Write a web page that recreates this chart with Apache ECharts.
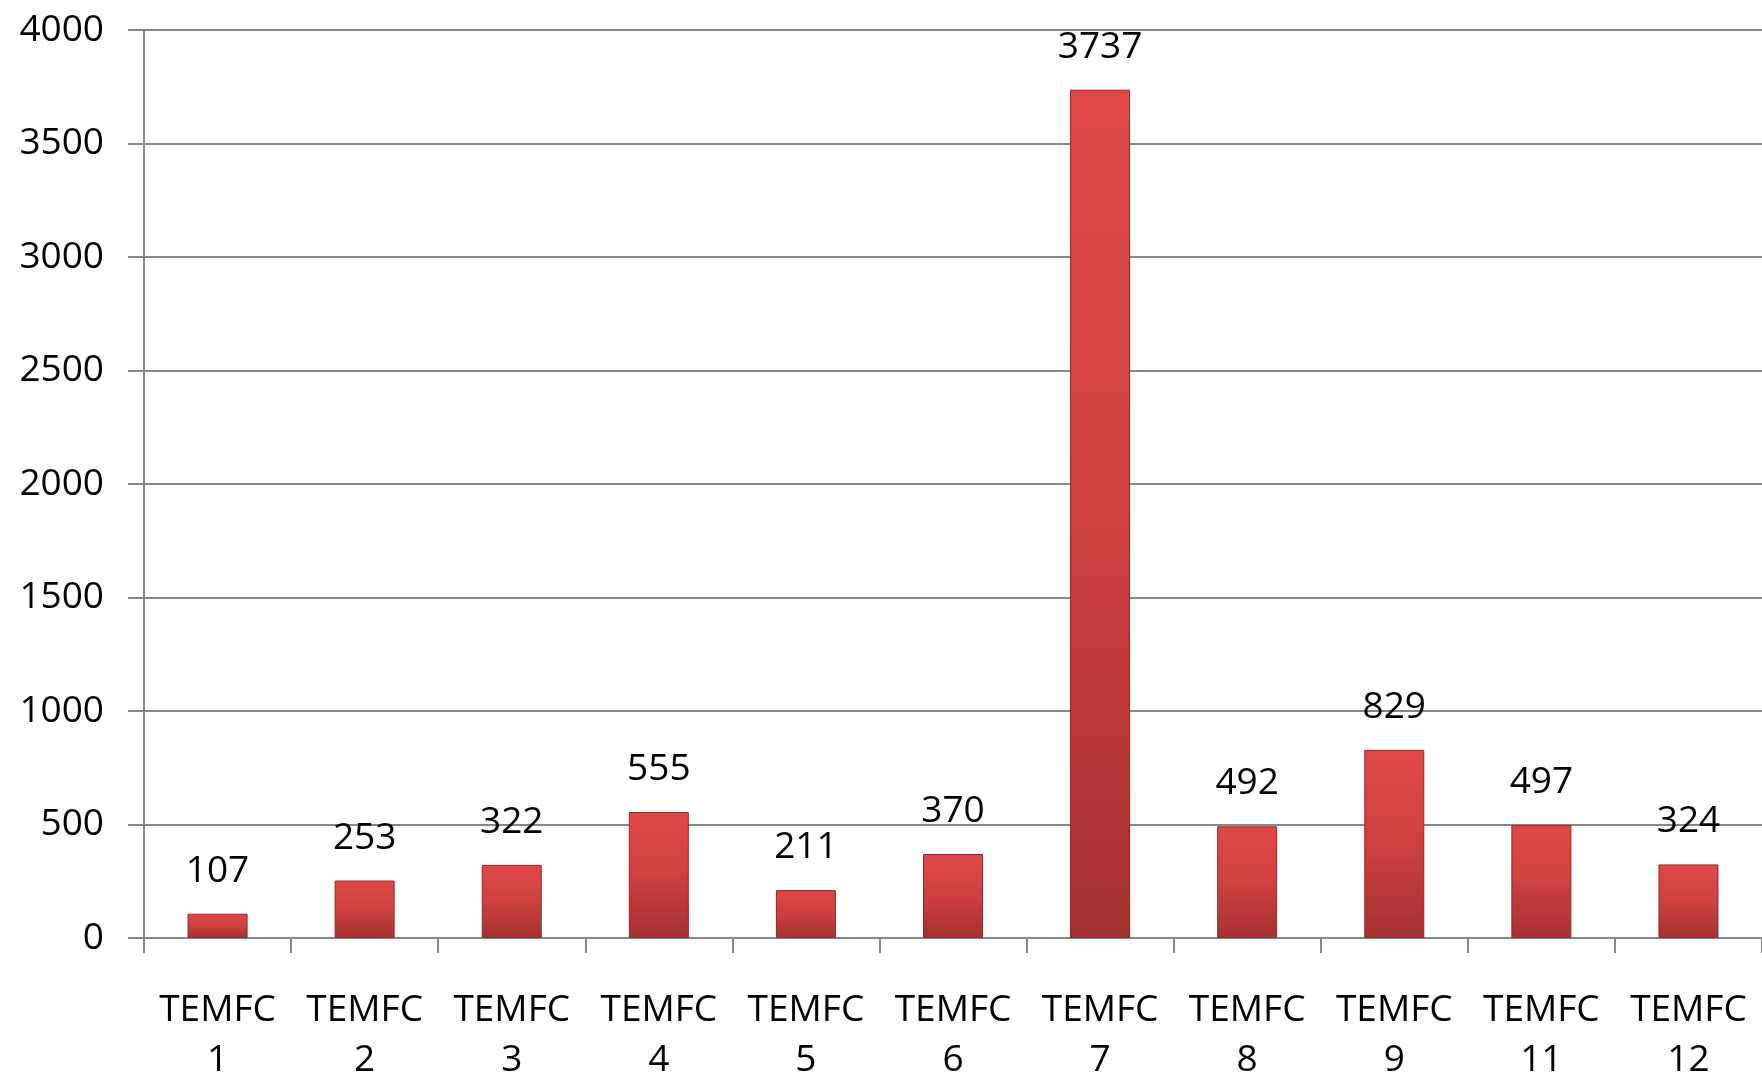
<!DOCTYPE html>
<html>
<head>
<meta charset="utf-8">
<script src="https://cdn.jsdelivr.net/npm/echarts@6/dist/echarts.min.js"></script>
<style>
  html, body { margin: 0; padding: 0; background: #fff; }
  #main { width: 1762px; height: 1076px; }
</style>
</head>
<body>
<div id="main"></div>
<script>
const categories = ['TEMFC\n1', 'TEMFC\n2', 'TEMFC\n3', 'TEMFC\n4', 'TEMFC\n5', 'TEMFC\n6',
  'TEMFC\n7', 'TEMFC\n8', 'TEMFC\n9', 'TEMFC\n11', 'TEMFC\n12'];
const values = [107, 253, 322, 555, 211, 370, 3737, 492, 829, 497, 324];

const chart = echarts.init(document.getElementById('main'));
const font = '"Open Sans", "Liberation Sans", sans-serif';

chart.setOption({
  animation: false,
  grid: { left: 144, right: 0, top: 30, bottom: 138, outerBoundsMode: 'none', containLabel: false },
  xAxis: {
    type: 'category',
    data: categories,
    axisLine: { lineStyle: { color: '#888', width: 2 } },
    axisTick: { show: true, length: 15, lineStyle: { color: '#888', width: 2 } },
    axisLabel: {
      color: '#000', fontFamily: font, fontSize: 37, lineHeight: 50,
      margin: 47, interval: 0
    }
  },
  yAxis: {
    type: 'value',
    min: 0, max: 4000, interval: 500,
    axisLine: { show: true, lineStyle: { color: '#888', width: 2 } },
    axisTick: { show: true, length: 16, lineStyle: { color: '#888', width: 2 } },
    splitLine: { lineStyle: { color: '#888', width: 2 } },
    axisLabel: {
      color: '#000', fontFamily: font, fontSize: 37, margin: 40,
      formatter: v => String(v)
    }
  },
  series: [{
    type: 'bar',
    data: values,
    barWidth: 60,
    itemStyle: {
      color: new echarts.graphic.LinearGradient(0, 0, 0, 1, [
        { offset: 0, color: '#e04848' },
        { offset: 0.5, color: '#cf4040' },
        { offset: 1, color: '#a53131' }
      ]),
      borderColor: '#8f2828',
      borderWidth: 1
    },
    label: {
      show: true, position: 'top', distance: 24,
      color: '#000', fontFamily: font, fontSize: 37
    }
  }]
});
</script>
</body>
</html>
